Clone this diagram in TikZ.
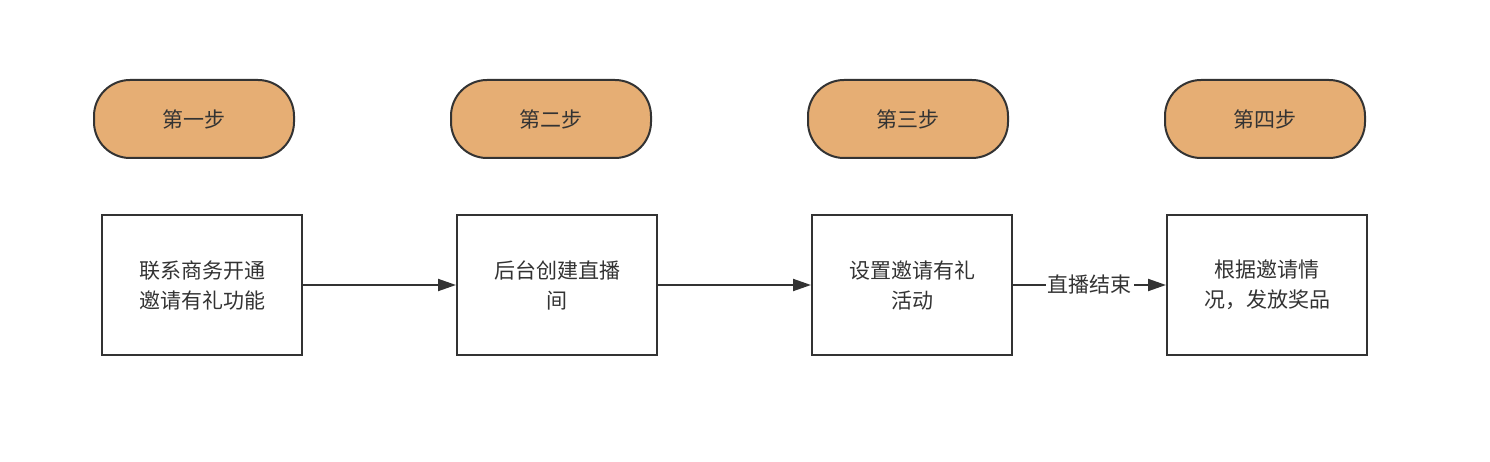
\documentclass[tikz,border=0pt]{standalone}
\usepackage{fontspec}
\newfontfamily\cjk{Noto Sans CJK SC}
\usetikzlibrary{arrows.meta}
\definecolor{pillc}{HTML}{E6AE74}
\definecolor{linec}{HTML}{333333}
\begin{document}
\begin{tikzpicture}[x=1pt,y=-1pt,
 pill/.style={draw=linec,line width=2pt,fill=pillc,rounded corners=36pt,minimum width=200pt,minimum height=78pt,font=\cjk\fontsize{21}{26}\selectfont,text=linec},
 box/.style={draw=linec,line width=2pt,fill=white,minimum width=200pt,minimum height=140pt,align=center,font=\cjk\fontsize{21}{30}\selectfont,text=linec},
 arr/.style={draw=linec,line width=2pt,-{Triangle[length=18pt,width=12pt]}}]
\useasboundingbox (0,0) rectangle (1490,462);
\node[pill] (p1) at (194,119) {第一步};
\node[pill] (p2) at (551,119) {第二步};
\node[pill] (p3) at (908,119) {第三步};
\node[pill] (p4) at (1265,119) {第四步};
\node[box] (b1) at (202,285) {联系商务开通\\邀请有礼功能};
\node[box] (b2) at (557,285) {后台创建直播\\间};
\node[box] (b3) at (912,285) {设置邀请有礼\\活动};
\node[box] (b4) at (1267,285) {根据邀请情\\况，发放奖品};
\draw[arr] (b1) -- (b2);
\draw[arr] (b2) -- (b3);
\draw[arr] (b3) -- node[fill=white,inner sep=2pt,font=\cjk\fontsize{21}{26}\selectfont,text=linec]{直播结束} (b4);
\end{tikzpicture}
\end{document}
